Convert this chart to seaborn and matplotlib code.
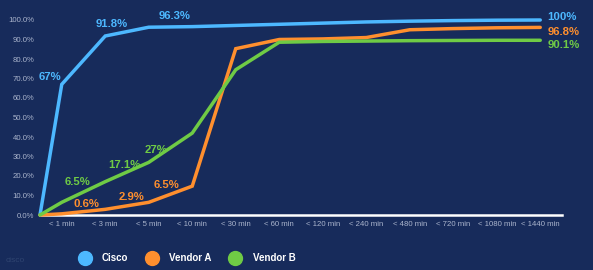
import matplotlib
matplotlib.use("Agg")
import matplotlib.pyplot as plt
from matplotlib.lines import Line2D
import seaborn as sns
import pandas as pd
import numpy as np

categories = ["< 1 min", "< 3 min", "< 5 min", "< 10 min", "< 30 min", "< 60 min",
              "< 120 min", "< 240 min", "< 480 min", "< 720 min", "< 1080 min", "< 1440 min"]
series_names = ["Cisco", "Vendor A", "Vendor B"]
# first value is the starting point (0%) before the first category
cisco = [0, 67, 91.8, 96.3, 96.6, 97.2, 97.8, 98.4, 99.0, 99.4, 99.7, 99.9, 100]
vendor_a = [0, 0.6, 2.9, 6.5, 14.8, 85.3, 90.0, 90.3, 91.0, 95.0, 95.6, 96.0, 96.2]
vendor_b = [0, 6.5, 17.1, 27, 42.0, 74.5, 88.6, 89.0, 89.2, 89.4, 89.5, 89.6, 89.6]
yticks = [0, 10, 20, 30, 40, 50, 60, 70, 80, 90, 100]
end_labels = {"Cisco": "100%", "Vendor A": "96.8%", "Vendor B": "90.1%"}

colors = {"Cisco": "#4db8ff", "Vendor A": "#ff8f2e", "Vendor B": "#6fcb45"}
bg = "#172b5b"

sns.set_theme(style="dark")
plt.rcParams["font.family"] = ["Liberation Sans", "DejaVu Sans"]

xpos = [-0.5] + list(range(len(categories)))
rows = []
for name, vals in zip(series_names, [cisco, vendor_a, vendor_b]):
    for x, v in zip(xpos, vals):
        rows.append({"x": x, "value": v, "series": name})
df = pd.DataFrame(rows)

fig = plt.figure(figsize=(5.93, 2.70), dpi=100, facecolor=bg)
ax = fig.add_axes([40/593, 1-215/270, 522/593, 195/270])
ax.set_facecolor(bg)

sns.lineplot(data=df, x="x", y="value", hue="series", palette=colors,
             linewidth=2.5, ax=ax, legend=False, sort=False)
for l in ax.lines:
    l.set_clip_on(False)
    l.set_solid_joinstyle("miter")

ax.set_xlim(-0.5, len(categories) - 0.5)
ax.set_ylim(0, 100)
ax.set_xticks(range(len(categories)))
ax.set_xticklabels(categories)
ax.set_yticks(yticks)
ax.set_yticklabels([f"{t:.1f}%" for t in yticks])
ax.tick_params(axis="both", colors="#aab4cc", labelsize=5.6, length=0, pad=4)
ax.set_xlabel("")
ax.set_ylabel("")
ax.grid(False)
for s in ["top", "right", "left"]:
    ax.spines[s].set_visible(False)
ax.spines["bottom"].set_color("white")
ax.spines["bottom"].set_linewidth(1.8)
ax.spines["bottom"].set_zorder(0)

def lab(series, idx, text, dx, dy, ha="center"):
    vals = {"Cisco": cisco, "Vendor A": vendor_a, "Vendor B": vendor_b}[series]
    ax.annotate(text, (xpos[idx], vals[idx]), xytext=(dx, dy), textcoords="offset pixels",
                ha=ha, va="center", color=colors[series], fontsize=8.2,
                fontweight="bold", annotation_clip=False)

lab("Cisco", 1, "67%", -12, 7)
lab("Cisco", 2, "91.8%", 6, 12)
lab("Cisco", 3, "96.3%", 26, 11)
lab("Cisco", 12, end_labels["Cisco"], 7, 3, ha="left")
lab("Vendor A", 1, "0.6%", 25, 10)
lab("Vendor A", 2, "2.9%", 26, 12)
lab("Vendor A", 3, "6.5%", 18, 17)
lab("Vendor A", 12, end_labels["Vendor A"], 7, -5, ha="left")
lab("Vendor B", 1, "6.5%", 16, 20)
lab("Vendor B", 2, "17.1%", 19, 17)
lab("Vendor B", 3, "27%", 7, 12)
lab("Vendor B", 12, end_labels["Vendor B"], 7, -5, ha="left")

handles = [Line2D([0], [0], marker="o", linestyle="none", markersize=10,
                  markerfacecolor=colors[n], markeredgecolor=colors[n]) for n in series_names]
leg = fig.legend(handles, series_names, loc="center left", bbox_to_anchor=(71/593, 12/270),
                 ncol=3, frameon=False, fontsize=7, handletextpad=0.8, columnspacing=1.4,
                 borderaxespad=0)
for t in leg.get_texts():
    t.set_color("white")
    t.set_fontweight("bold")

fig.text(6/593, 10/270, "cisco", color="#2f4470", fontsize=6, va="center")

fig.savefig("out.png", dpi=100, facecolor=bg)
